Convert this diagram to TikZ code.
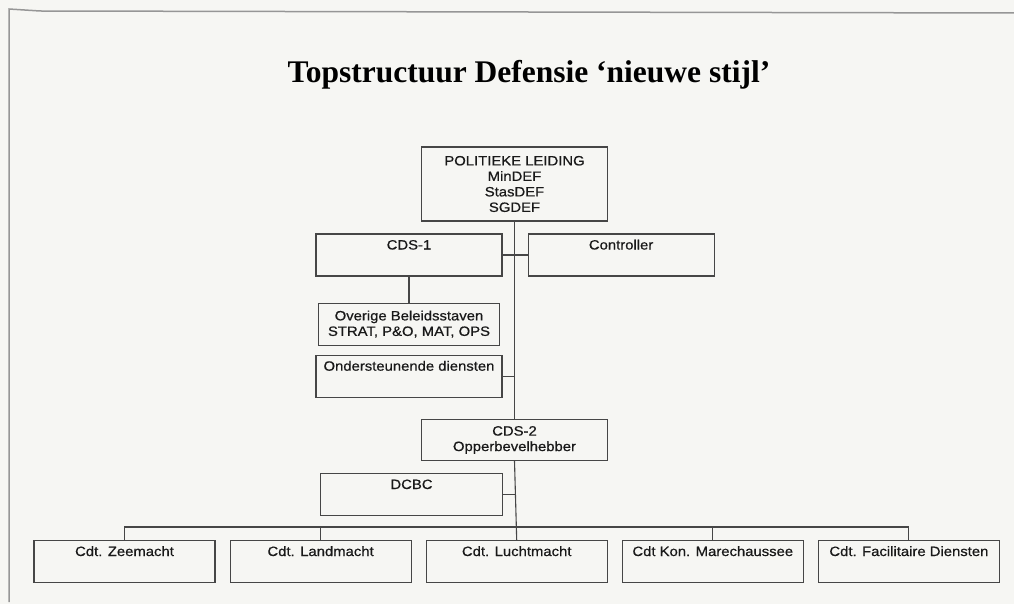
\documentclass[tikz,border=0pt]{standalone}
\usepackage{fontspec}
\usepackage{xcolor}
\usepackage{tikz}
\usetikzlibrary{positioning,calc}
\newfontfamily\boxfont[FakeStretch=1.1,FakeBold=0.6]{Liberation Sans}
\newfontfamily\titlefont{Liberation Serif}
\definecolor{scanbg}{RGB}{246,246,243}
\definecolor{scanline}{RGB}{70,70,70}
\definecolor{framegray}{RGB}{150,150,150}

\begin{document}
\begin{tikzpicture}[x=1pt,y=1pt,font=\boxfont\fontsize{13.5}{15.5}\selectfont,node distance=14pt]
\tikzstyle{orgbox}=[draw=scanline,line width=1.1pt,align=center,minimum width=186pt,minimum height=42pt,inner sep=0pt,text=black!90]
\tikzstyle{topbox}=[orgbox,text height=15.5pt,text depth=26.5pt]
\tikzstyle{link}=[draw=scanline,line width=1.1pt]
\useasboundingbox[fill=scanbg] (0,0) rectangle (1014,-604);
\draw[framegray,line width=1.5pt] (1014,-13) -- (40,-11) -- (9,-9) -- (9,-602);
\node[font=\titlefont\bfseries\fontsize{31.5}{36}\selectfont,anchor=base] (title) at (529,-83) {Topstructuur Defensie ‘nieuwe stijl’};
\node[orgbox,minimum height=74pt] (pol) at (514.5,-184) {POLITIEKE LEIDING\\MinDEF\\StasDEF\\SGDEF};
\node[topbox] (cds1) at (409,-255) {CDS-1};
\node[topbox,right=25pt of cds1] (ctrl) {Controller};
\node[orgbox,minimum width=181pt,below=26pt of cds1] (over) {Overige Beleidsstaven\\STRAT, P\&O, MAT, OPS};
\node[topbox,below=9pt of over] (onder) {Ondersteunende diensten};
\node[orgbox,minimum height=41pt] (cds2) at (514.5,-440) {CDS-2\\Opperbevelhebber};
\node[topbox,minimum width=182pt] (dcbc) at (411.5,-494.5) {DCBC};
\node[topbox,minimum width=181pt] (zee) at (124.5,-561.5) {Cdt. Zeemacht};
\node[topbox,minimum width=181pt,right=of zee] (land) {Cdt. Landmacht};
\node[topbox,minimum width=181pt,right=of land] (lucht) {Cdt. Luchtmacht};
\node[topbox,minimum width=181pt,right=of lucht] (mare) {Cdt Kon. Marechaussee};
\node[topbox,minimum width=181pt,right=of mare] (fac) {Cdt. Facilitaire Diensten};
\coordinate[above=13pt of lucht] (bus);
\draw[link] (pol.south) -- (cds2.north);
\draw[link] (cds1) -- (ctrl);
\draw[link] (cds1) -- (over);
\draw[link] (onder.east) -- (onder.east -| pol.south);
\draw[link] (dcbc.east) -- (dcbc.east -| cds2.south);
\draw[link] (cds2.south) -- (lucht.north);
\foreach \cdt in {zee,land,mare,fac}
  \draw[link] (\cdt.north) |- (bus);
\end{tikzpicture}
\end{document}
